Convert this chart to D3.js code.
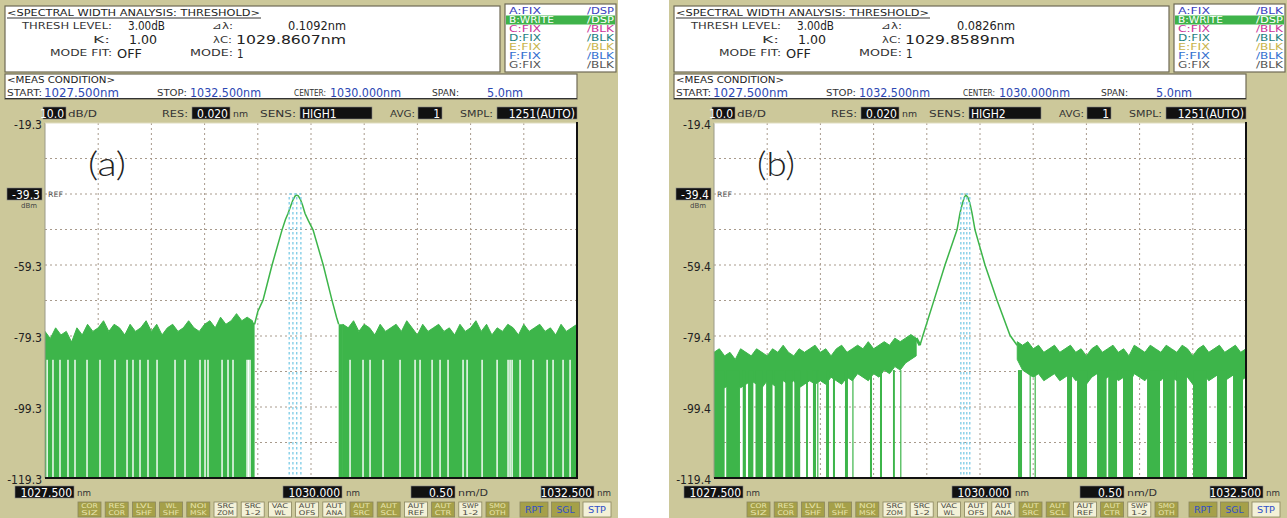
<!DOCTYPE html>
<html>
<head>
<meta charset="utf-8">
<script src="https://cdn.jsdelivr.net/npm/d3@7"></script>
<style>
  body { margin: 0; background: #fff; }
  svg { display: block; }
</style>
</head>
<body>
<svg id="chart" width="1287" height="518"></svg>
<script>
// ---- data ----
const panelIds = ["(a)", "(b)"];
const wlStart = 1027.5;
const wlStop = 1032.5;
const wlCenter = 1030.0;
const wlPerDiv = 0.5;
const topLevels = [-19.3, -19.4];
const refLevels = [-39.3, -39.4];
const dbPerDiv = 10;
const threshLevels = ["3.00dB", "3.00dB"];
const kValues = ["1.00", "1.00"];
const modeFits = ["OFF", "OFF"];
const deltaLambdas = ["0.1092nm", "0.0826nm"];
const centerLambdas = ["1029.8607nm", "1029.8589nm"];
const modeNumbers = ["1", "1"];
const sensModes = ["HIGH1", "HIGH2"];
const resolution = "0.020";
const averaging = "1";
const sampling = "1251(AUTO)";
const traceNames = ["A:FIX", "B:WRITE", "C:FIX", "D:FIX", "E:FIX", "F:FIX", "G:FIX"];
const traceStatesA = ["/DSP", "/DSP", "/BLK", "/BLK", "/BLK", "/BLK", "/BLK"];
const traceStatesB = ["/BLK", "/DSP", "/BLK", "/BLK", "/BLK", "/BLK", "/BLK"];
const softKeys = [["COR", "SIZ"], ["RES", "COR"], ["LVL", "SHF"], ["WL", "SHF"], ["NOI", "MSK"],
  ["SRC", "ZOM"], ["SRC", "1-2"], ["VAC", "WL"], ["AUT", "OFS"], ["AUT", "ANA"], ["AUT", "SRC"],
  ["AUT", "SCL"], ["AUT", "REF"], ["AUT", "CTR"], ["SWP", "1-2"], ["SMO", "OTH"]];
const softKeyDark = [1, 1, 1, 1, 1, 0, 0, 0, 0, 0, 1, 1, 0, 1, 0, 1];
const runKeys = ["RPT", "SGL", "STP"];

// peak of the trace, [wavelength nm, level dBm]
const peakA = [[1029.470, -76], [1029.500, -72.4], [1029.549, -69.2], [1029.634, -59.3],
  [1029.728, -49.4], [1029.760, -46.5], [1029.784, -44.8], [1029.810, -42.6], [1029.830, -41.0],
  [1029.850, -39.9], [1029.864, -39.6], [1029.880, -39.8], [1029.900, -40.8], [1029.920, -42.4],
  [1029.944, -44.8], [1029.975, -46.8], [1030.019, -49.4], [1030.115, -59.3], [1030.197, -69.2],
  [1030.240, -74], [1030.260, -76]];
const peakB = [[1029.436, -82], [1029.464, -79.2], [1029.568, -69.3], [1029.671, -59.4],
  [1029.784, -49.5], [1029.812, -44.8], [1029.835, -42.0], [1029.855, -40.2], [1029.868, -39.7],
  [1029.885, -40.3], [1029.905, -42.0], [1029.925, -44.8], [1029.953, -49.5], [1030.047, -59.4],
  [1030.160, -69.3], [1030.282, -79.2], [1030.348, -82]];

// threshold markers (dotted cyan), nm
const markersA = [1029.795, 1029.830, 1029.866, 1029.905];
const markersB = [1029.820, 1029.848, 1029.876, 1029.904];

// noise floor envelope, one value every 0.05 nm
const noiseStep = 0.05;
const noiseStartA1 = 1027.50;
const noiseTopA1 = [-78, -80, -77, -79, -78, -81, -77, -79, -76, -78, -77, -75, -78, -76, -77, -79, -76, -78, -77, -75,
  -78, -76, -79, -77, -76, -78, -77, -75, -77, -78, -76, -75, -77, -74, -76, -75, -73, -75, -74, -75];
const noiseStartA2 = 1030.30;
const noiseTopA2 = [-76, -77, -75, -78, -76, -77, -79, -76, -78, -77, -76, -78, -75, -77, -79, -76, -78, -77, -76, -78,
  -77, -79, -76, -78, -77, -75, -78, -76, -79, -77, -78, -76, -77, -79, -76, -78, -77, -76, -78, -77,
  -79, -76, -78, -77, -76];
// white gaps in the noise of (a): trace stays near the floor, nm
const gapsA = [1027.520, 1027.575, 1027.641, 1027.716, 1027.782, 1027.895, 1028.017, 1028.158, 1028.271,
  1028.327, 1028.393, 1028.468, 1028.553, 1028.722, 1028.816, 1028.957, 1029.004, 1029.032,
  1029.164, 1029.220, 1029.267, 1029.399, 1029.413, 1029.427,
  1030.367, 1030.489, 1030.555, 1030.677, 1030.837, 1030.978, 1031.025, 1031.138, 1031.213,
  1031.288, 1031.429, 1031.467, 1031.608, 1031.749, 1031.852, 1031.871, 1031.890, 1031.965,
  1032.087, 1032.219, 1032.275, 1032.369, 1032.435];

const noiseStartB1 = 1027.50;
const noiseTopB1 = [-84, -83, -85, -84, -86, -83, -84, -85, -83, -84, -85, -83, -84, -82, -84, -85, -83, -84, -83, -82,
  -84, -83, -85, -83, -82, -84, -83, -82, -83, -81, -83, -82, -81, -82, -80, -81, -80, -79, -80];
const noiseFloorB1 = [-93, -92, -94, -93, -92, -94, -93, -92, -93, -94, -92, -93, -94, -92, -93, -92, -94, -93, -92, -93,
  -92, -93, -91, -92, -93, -91, -92, -90, -91, -92, -90, -91, -89, -90, -88, -89, -87, -86, -85];
const noiseStartB2 = 1030.35;
const noiseTopB2 = [-81, -82, -81, -83, -82, -84, -83, -82, -84, -83, -82, -84, -83, -85, -83, -82, -84, -83, -82, -84,
  -83, -85, -82, -83, -84, -82, -83, -84, -82, -83, -84, -82, -83, -85, -83, -82, -84, -83, -82, -84,
  -83, -82, -84, -83];
const noiseFloorB2 = [-86, -89, -90, -91, -90, -92, -91, -90, -92, -91, -90, -92, -91, -93, -91, -90, -92, -91, -90, -92,
  -91, -93, -90, -91, -92, -90, -91, -92, -90, -91, -92, -90, -91, -93, -91, -90, -92, -91, -90, -92,
  -91, -90, -92, -91];
// ranges of (b) where the trace drops to the bottom, nm
const dropsB = [[1027.50, 1027.60], [1027.615, 1027.744], [1027.77, 1027.80], [1027.82, 1027.87],
  [1027.89, 1027.96], [1027.99, 1028.05], [1028.07, 1028.15], [1028.17, 1028.24], [1028.255, 1028.31],
  [1028.365, 1028.383], [1028.430, 1028.459], [1028.47, 1028.48], [1028.553, 1028.581],
  [1028.618, 1028.637], [1028.731, 1028.759], [1028.80, 1028.81], [1028.966, 1028.985],
  [1029.060, 1029.079], [1029.182, 1029.200], [1029.25, 1029.26],
  [1030.357, 1030.395], [1030.466, 1030.474], [1030.513, 1030.521], [1030.818, 1030.865],
  [1030.912, 1031.006], [1031.100, 1031.190], [1031.205, 1031.288], [1031.344, 1031.438],
  [1031.570, 1031.692], [1031.720, 1031.830], [1031.845, 1031.945], [1032.002, 1032.133],
  [1032.227, 1032.321], [1032.378, 1032.472]];

// ---- layout / style ----
const panelX = [0, 669];
const panelW = 618;
const plot = { x0: 45, x1: 577, y0: 123, y1: 478 };
const OLIVE = "#ccc89a";
const TRACE = "#3db54a";
const LABEL_FONT = "'DejaVu Sans', sans-serif";
const NUM_FONT = "'Liberation Sans Narrow', 'DejaVu Sans Condensed', 'Liberation Sans', sans-serif";
const BLUE = "#2c48b4";

const svg = d3.select("#chart");
const defs = svg.append("defs");

function txt(g, x, y, s, o = {}) {
  const t = g.append("text").attr("x", x).attr("y", y).text(s)
    .attr("font-family", o.ff || LABEL_FONT)
    .attr("font-size", o.fs || 9)
    .attr("fill", o.fill || "#333")
    .attr("text-anchor", o.anchor || "start")
    .attr("dominant-baseline", "central");
  if (o.len) t.attr("textLength", o.len).attr("lengthAdjust", "spacingAndGlyphs");
  if (o.fw) t.attr("font-weight", o.fw);
  return t;
}

function blackBox(g, x0, x1, yc, h, s, align = "end", fs = 12) {
  g.append("rect").attr("x", x0).attr("y", yc - h / 2).attr("width", x1 - x0).attr("height", h)
    .attr("fill", "#111").attr("stroke", "#888").attr("stroke-width", 0.6);
  const tx = align === "end" ? x1 - 2 : x0 + 2;
  txt(g, tx, yc + 0.5, s, { ff: NUM_FONT, fs, fill: "#fff", anchor: align });
}

function noiseSeries(start, values, floors) {
  return values.map((v, k) => [start + k * noiseStep, v, floors ? floors[k] : null]);
}

function drawPanel(i) {
  const g = svg.append("g").attr("transform", `translate(${panelX[i]},0)`);
  const isA = i === 0;
  g.append("rect").attr("width", panelW).attr("height", 518).attr("fill", OLIVE);

  // ---- analysis box ----
  g.append("rect").attr("x", 5).attr("y", 6).attr("width", 495).attr("height", 66)
    .attr("fill", "#fff").attr("stroke", "#6e6a55").attr("stroke-width", 1.2);
  txt(g, 7, 12.5, "<SPECTRAL WIDTH ANALYSIS: THRESHOLD>", { fs: 9, len: 253, fill: "#222" });
  g.append("line").attr("x1", 7).attr("x2", 261).attr("y1", 18).attr("y2", 18)
    .attr("stroke", "#333").attr("stroke-width", 1);
  txt(g, 112, 26, "THRESH LEVEL:", { fs: 9, len: 90, anchor: "end" });
  txt(g, 128, 26, threshLevels[i], { ff: NUM_FONT, fs: 11.5, len: 37, fill: "#222" });
  txt(g, 110, 39.5, "K:", { fs: 9, len: 17, anchor: "end" });
  txt(g, 129, 39.5, kValues[i], { ff: NUM_FONT, fs: 11.5, len: 28, fill: "#222" });
  txt(g, 112, 53, "MODE FIT:", { fs: 9, len: 62, anchor: "end" });
  txt(g, 117, 53.5, modeFits[i], { ff: NUM_FONT, fs: 11.5, len: 25, fill: "#222" });
  txt(g, 233, 26, "⊿λ:", { fs: 9, len: 21, anchor: "end" });
  txt(g, 346, 26, deltaLambdas[i], { ff: NUM_FONT, fs: 11.5, len: 58, anchor: "end", fill: "#222" });
  txt(g, 232, 39.5, "λC:", { fs: 9, len: 19, anchor: "end" });
  txt(g, 346, 39.5, centerLambdas[i], { ff: NUM_FONT, fs: 11.5, len: 110, anchor: "end", fill: "#222" });
  txt(g, 233, 53, "MODE:", { fs: 9, len: 43, anchor: "end" });
  txt(g, 237, 53.5, modeNumbers[i], { ff: NUM_FONT, fs: 11.5, fill: "#222" });

  // ---- trace legend ----
  g.append("rect").attr("x", 505).attr("y", 4).attr("width", 111).attr("height", 68)
    .attr("fill", "#fff").attr("stroke", "#6e6a55").attr("stroke-width", 1.2);
  const traceColors = ["#3a3fc0", "#ffffff", "#cc3399", "#1e8080", "#c8b44a", "#3370d0", "#555"];
  const states = isA ? traceStatesA : traceStatesB;
  traceNames.forEach((name, k) => {
    const yc = 11 + k * 9;
    if (k === 1) {
      g.append("rect").attr("x", 506).attr("y", yc - 4.5).attr("width", 109).attr("height", 9)
        .attr("fill", "#3fb34a");
    }
    txt(g, 509, yc, name, { fs: 8, fill: traceColors[k], len: name.length * 6.4 });
    txt(g, 614, yc, states[k], { fs: 8, fill: traceColors[k], anchor: "end", len: 27 });
  });

  // ---- measuring condition box ----
  g.append("rect").attr("x", 5).attr("y", 74).attr("width", 572).attr("height", 25)
    .attr("fill", "#fff").attr("stroke", "#6e6a55").attr("stroke-width", 1.2);
  txt(g, 7, 80, "<MEAS CONDITION>", { fs: 8, len: 108, fill: "#222" });
  txt(g, 7, 92.5, "START:", { fs: 8.5, len: 35 });
  txt(g, 44, 92, wlStart.toFixed(3) + "nm", { ff: NUM_FONT, fs: 13, len: 75, fill: BLUE });
  txt(g, 157, 92.5, "STOP:", { fs: 8.5, len: 30 });
  txt(g, 190, 92, wlStop.toFixed(3) + "nm", { ff: NUM_FONT, fs: 13, len: 71, fill: BLUE });
  txt(g, 294, 92.5, "CENTER:", { fs: 8.5, len: 32 });
  txt(g, 330, 92, wlCenter.toFixed(3) + "nm", { ff: NUM_FONT, fs: 13, len: 71, fill: BLUE });
  txt(g, 432, 92.5, "SPAN:", { fs: 8.5, len: 27 });
  txt(g, 487, 92, (wlStop - wlStart).toFixed(1) + "nm", { ff: NUM_FONT, fs: 13, len: 36, fill: BLUE });
  g.append("line").attr("x1", 5).attr("x2", 577).attr("y1", 98.5).attr("y2", 98.5)
    .attr("stroke", "#333").attr("stroke-width", 1);

  // ---- settings row ----
  blackBox(g, 43, 66, 113, 12, dbPerDiv.toFixed(1), "end");
  txt(g, 68, 113.5, "dB/D", { fs: 8.5, len: 29 });
  txt(g, 162, 113.5, "RES:", { fs: 8.5, len: 26 });
  blackBox(g, 192, 230, 113, 12, resolution, "end");
  txt(g, 233, 113.5, "nm", { fs: 8.5, len: 15 });
  txt(g, 260, 113.5, "SENS:", { fs: 8.5, len: 36 });
  blackBox(g, 300, 372, 113, 12, sensModes[i], "start");
  txt(g, 390, 113.5, "AVG:", { fs: 8.5, len: 25 });
  blackBox(g, 418, 442, 113, 12, averaging, "end");
  txt(g, 460, 113.5, "SMPL:", { fs: 8.5, len: 33 });
  blackBox(g, 497, 577, 113, 12, sampling, "end");

  // ---- plot ----
  const x = d3.scaleLinear().domain([wlStart, wlStop]).range([plot.x0, plot.x1]);
  const y = d3.scaleLinear().domain([topLevels[i] - 10 * dbPerDiv, topLevels[i]]).range([plot.y1, plot.y0]);
  const clipId = "clip" + i;
  defs.append("clipPath").attr("id", clipId).append("rect")
    .attr("x", plot.x0).attr("y", plot.y0).attr("width", plot.x1 - plot.x0).attr("height", plot.y1 - plot.y0);

  g.append("rect").attr("x", plot.x0).attr("y", plot.y0)
    .attr("width", plot.x1 - plot.x0).attr("height", plot.y1 - plot.y0).attr("fill", "#fff");

  const yGrid = d3.range(1, 10).map(k => topLevels[i] - k * dbPerDiv);
  const xGrid = d3.range(1, 10).map(k => wlStart + k * wlPerDiv);
  const grid = g.append("g").attr("stroke", "#a89a8c").attr("stroke-width", 1).attr("stroke-dasharray", "2,3");
  grid.selectAll(".gy").data(yGrid).join("line").attr("class", "gy")
    .attr("x1", plot.x0).attr("x2", plot.x1).attr("y1", d => y(d)).attr("y2", d => y(d));
  grid.selectAll(".gx").data(xGrid).join("line").attr("class", "gx")
    .attr("y1", plot.y0).attr("y2", plot.y1).attr("x1", d => x(d)).attr("x2", d => x(d));

  const traceG = g.append("g").attr("clip-path", `url(#${clipId})`);
  const bottom = y.range()[0];

  if (isA) {
    [noiseSeries(noiseStartA1, noiseTopA1), noiseSeries(noiseStartA2, noiseTopA2)].forEach(s => {
      traceG.append("path").datum(s)
        .attr("d", d3.area().x(d => x(d[0])).y0(bottom).y1(d => y(d[1])))
        .attr("fill", TRACE).attr("stroke", TRACE).attr("stroke-width", 1);
    });
    // fill the feet between noise and peak
    traceG.append("path")
      .attr("d", d3.area().x(d => x(d[0])).y0(bottom).y1(d => y(d[1]))(
        [[noiseStartA1 + (noiseTopA1.length - 1) * noiseStep, noiseTopA1[noiseTopA1.length - 1]], peakA[0]]))
      .attr("fill", TRACE);
    traceG.append("path")
      .attr("d", d3.area().x(d => x(d[0])).y0(bottom).y1(d => y(d[1]))(
        [peakA[peakA.length - 1], [noiseStartA2, noiseTopA2[0]]]))
      .attr("fill", TRACE);
    traceG.selectAll(".gap").data(gapsA).join("rect").attr("class", "gap")
      .attr("x", d => x(d) - 0.7).attr("width", 1.4)
      .attr("y", y(-86)).attr("height", bottom - y(-86))
      .attr("fill", "#fff");
  } else {
    const s1 = noiseSeries(noiseStartB1, noiseTopB1, noiseFloorB1);
    const s2 = noiseSeries(noiseStartB2, noiseTopB2, noiseFloorB2);
    [s1, s2].forEach(s => {
      traceG.append("path").datum(s)
        .attr("d", d3.area().x(d => x(d[0])).y0(d => y(d[2])).y1(d => y(d[1])))
        .attr("fill", TRACE).attr("stroke", TRACE).attr("stroke-width", 1);
    });
    traceG.append("path")
      .attr("d", d3.line().x(d => x(d[0])).y(d => y(d[1]))(
        [[noiseStartB1 + (noiseTopB1.length - 1) * noiseStep, noiseTopB1[noiseTopB1.length - 1]], peakB[0]]))
      .attr("stroke", TRACE).attr("stroke-width", 3).attr("fill", "none");
    traceG.selectAll(".drop").data(dropsB).join("rect").attr("class", "drop")
      .attr("x", d => x(d[0])).attr("width", d => Math.max(1.2, x(d[1]) - x(d[0])))
      .attr("y", y(-89)).attr("height", bottom - y(-89))
      .attr("fill", TRACE);
  }

  // threshold markers
  const markers = isA ? markersA : markersB;
  const mk = g.append("g").attr("stroke", "#7ccbe6").attr("stroke-width", 1.3)
    .attr("stroke-dasharray", "2.5,2.5").attr("fill", "none");
  mk.selectAll("line").data(markers).join("line")
    .attr("x1", d => x(d)).attr("x2", d => x(d))
    .attr("y1", y(refLevels[i]) + 3).attr("y2", plot.y1);
  mk.append("line").attr("x1", x(markers[0])).attr("x2", x(markers[markers.length - 1]))
    .attr("y1", y(refLevels[i])).attr("y2", y(refLevels[i]));

  // peak
  traceG.append("path").datum(isA ? peakA : peakB)
    .attr("d", d3.line().x(d => x(d[0])).y(d => y(d[1])))
    .attr("fill", "none").attr("stroke", TRACE).attr("stroke-width", 1.5);

  // frame
  g.append("line").attr("x1", plot.x0).attr("x2", plot.x0).attr("y1", plot.y0).attr("y2", plot.y1)
    .attr("stroke", "#9a9a88").attr("stroke-width", 1);
  g.append("line").attr("x1", plot.x0).attr("x2", plot.x1).attr("y1", plot.y0).attr("y2", plot.y0)
    .attr("stroke", "#e0ddc0").attr("stroke-width", 1);
  g.append("line").attr("x1", plot.x1).attr("x2", plot.x1).attr("y1", plot.y0 - 1).attr("y2", plot.y1 + 1)
    .attr("stroke", "#111").attr("stroke-width", 2);
  g.append("line").attr("x1", plot.x0).attr("x2", plot.x1 + 1).attr("y1", plot.y1).attr("y2", plot.y1)
    .attr("stroke", "#111").attr("stroke-width", 2);

  // y labels via axis
  const labelValues = [0, 4, 6, 8, 10].map(k => topLevels[i] - k * dbPerDiv);
  const axis = d3.axisLeft(y).tickValues(labelValues).tickSize(0).tickPadding(0)
    .tickFormat(d => d.toFixed(1));
  const ax = g.append("g").attr("transform", `translate(${plot.x0 - 3},1.5)`).call(axis);
  ax.select(".domain").remove();
  ax.selectAll("text").attr("font-family", NUM_FONT).attr("font-size", 12).attr("fill", "#222")
    .attr("dy", "0.32em");
  // reference level
  blackBox(g, 7, 42, y(refLevels[i]), 12, refLevels[i].toFixed(1), "end", 12);
  txt(g, 48, y(refLevels[i]) + 0.5, "REF", { fs: 7.5, fill: "#555", len: 15 });
  txt(g, 37, y(refLevels[i]) + 12, "dBm", { fs: 7, fill: "#444", anchor: "end", len: 16 });

  // panel tag
  txt(g, 88, 162, panelIds[i], { ff: "Lato, 'Open Sans', 'Noto Sans', sans-serif", fs: 34, fw: 300, fill: "#222", len: 38 });

  // ---- x labels ----
  blackBox(g, 15, 74, 492, 12, wlStart.toFixed(3), "end");
  txt(g, 77, 492.5, "nm", { fs: 8.5, len: 14 });
  blackBox(g, 283, 342, 492, 12, wlCenter.toFixed(3), "end");
  txt(g, 346, 492.5, "nm", { fs: 8.5, len: 14 });
  blackBox(g, 411, 455, 492, 12, wlPerDiv.toFixed(2), "end");
  txt(g, 458, 492.5, "nm/D", { fs: 8.5, len: 30 });
  blackBox(g, 541, 594, 492, 12, wlStop.toFixed(3), "end");
  txt(g, 597, 492.5, "nm", { fs: 8.5, len: 14 });

  // ---- soft keys ----
  softKeys.forEach((lab, k) => {
    const bx = 78 + k * 27.2;
    const dark = softKeyDark[k];
    g.append("rect").attr("x", bx).attr("y", 502).attr("width", 23).attr("height", 15)
      .attr("fill", dark ? "#a5a049" : "#f3f1d8").attr("stroke", "#8a865e").attr("stroke-width", 0.8);
    const c = dark ? "#e8e4ae" : "#4a4a40";
    txt(g, bx + 11.5, 506, lab[0], { fs: 6.5, fill: c, anchor: "middle", len: lab[0].length * 5.5 });
    txt(g, bx + 11.5, 513, lab[1], { fs: 6.5, fill: c, anchor: "middle", len: lab[1].length * 5.5 });
  });
  runKeys.forEach((lab, k) => {
    const bx = 520 + k * 31.5;
    const dark = k < 2;
    g.append("rect").attr("x", bx).attr("y", 502).attr("width", 28).attr("height", 15)
      .attr("fill", dark ? "#a5a049" : "#f3f1d8").attr("stroke", "#8a865e").attr("stroke-width", 0.8);
    txt(g, bx + 14, 510, lab, { fs: 8, fill: "#2f4fc8", anchor: "middle", len: 18 });
  });
}

panelIds.forEach((_, i) => drawPanel(i));
</script>
</body>
</html>
